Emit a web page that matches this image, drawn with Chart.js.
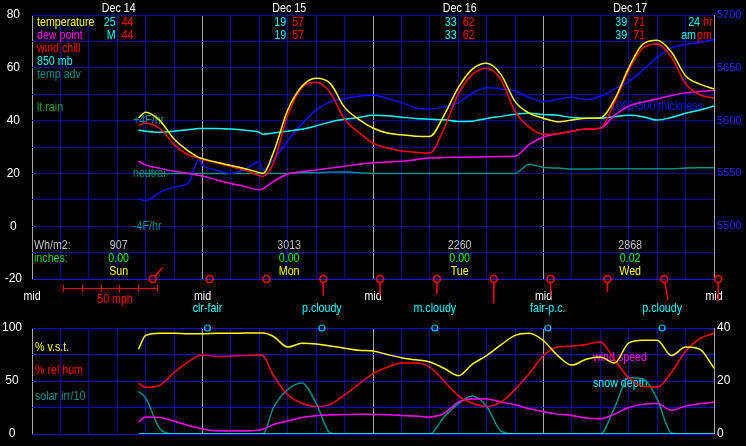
<!DOCTYPE html>
<html>
<head>
<meta charset="utf-8">
<script src="https://cdn.jsdelivr.net/npm/chart.js@4.4.1/dist/chart.umd.min.js"></script>
<style>
  body { margin: 0; background: #000; }
  #wrap { position: relative; width: 746px; height: 446px; background: #000; overflow: hidden; }
  canvas { position: absolute; left: 0; }
  #topChart { top: 0; }
  #botChart { top: 320px; }
</style>
</head>
<body>
<div id="wrap">
  <canvas id="topChart" width="746" height="320"></canvas>
  <canvas id="botChart" width="746" height="126"></canvas>
</div>
<script>
/* ── data: hours since Dec 14 00:00 ── */
const hours = [15,16,18,20,22,23.5,24,26,28,30,32,32.5,34,36,38,40,42,44,46,48,50,52,54,56,58,60,62,64,66,68,70,72,74,76,78,80,82,84,86,88,90,92,94,96];

// top panel (deg F)
const temperature = [41,43.2,40,33,28.5,26,25.6,24.2,23,21.8,20.3,20,28,44,53,56,54,45,40.5,37.2,35.3,34.6,34.1,34,42,52.5,59.5,61.7,57.5,47.2,42.8,40.9,39.6,40.2,40.9,41,48,60,69,70.4,66,57,53.8,52];
const windChill   = [38.3,39,37,31,27,25.8,25.3,24,22.6,21.2,19.2,18.9,24,42,52.5,54.5,50.5,40.5,35.5,31.5,29.6,28.5,28,27.7,37,50,57.5,59.8,55.5,43.5,37.5,34.8,35,36,36.8,37.1,47,59,67.5,69,64,54,49.8,48.5];
const dewPoint    = [24.6,23.2,21.9,20.8,20,19.3,19,17.5,16.2,15,13.8,14.2,17,19.8,20.6,21.3,22,22.7,23.5,24,24.3,24.6,25.2,25.8,26,26.1,26.2,26.3,26.4,26.5,31,33.8,35,36,36.8,37.1,42,45.5,47,48.2,49.5,50.5,51,51.5];
const temp850     = [36.4,36,35.6,36,36.5,37,37,37,36.8,36.3,35.6,34.8,35.3,36,36.7,38,39.5,40.5,41.2,42,41.8,41.3,40.8,40.5,40.3,39.7,39.8,40.8,41.6,42.4,42.8,42.3,42,41.2,40.9,40.9,41.5,42,41.5,40.2,41.2,42.8,44,45.5];
const thickness   = [5526,5524,5532,5537,5541,5563,5558,5553,5550,5554,5561,5553,5563,5581,5597,5610,5618,5621,5623,5624,5621,5617,5612,5611,5613,5617,5626,5631,5630,5628,5622,5618,5620,5622,5620,5623,5630,5637,5648,5660,5669,5672,5674,5677];
const tempAdv     = [0,0,0,0,0,0,0,0,0,0,0,0,0,0,0.05,0.05,0.1,0.1,0.05,0,0,0,0,0,0,0,0,0,0,0,0.7,0.45,0.4,0.33,0.33,0.35,0.35,0.35,0.35,0.35,0.35,0.4,0.42,0.42];

// bottom panel
const vst       = [80,93,95,95,94.5,94.5,94.5,95,95,95.3,95.3,95.3,92,82,85.5,85,83,81,79,78.3,75,72,70,68,62,55,66,74,84,93,95,88,74,65,70.5,72.6,67,86,88.5,88.5,74,82,80,62];
const relHum    = [48,44,46,58,68,74,74.5,73,73.5,74,74.5,74,55,37,29,26,28,37,47,57,63,67,67,63,50,36,29,26,30,42,57,74,82,83,84.5,86.8,70,53,45,44.3,58,78,90,95];
const solarIrr  = [40,34,5,0,0,0,0,0,0,0,0,0,25,42,48,29,1,0,0,0,0,0,0,0,16,28.5,35.8,26,3,0,0,0,0,0,0,0,25,53,52,33,1,0,0,0];
const windSpeed = [4.5,6.4,6.2,4.8,3.2,2.2,1.9,1.2,1.1,1.1,1.5,1.8,3.6,4.9,6.2,6.9,7.2,7.4,7.5,7.4,7.3,7,6.8,6.4,7.8,12,13.2,13.2,12.1,11,9.5,8.5,7.5,7,6,5.7,7.5,10,11.2,11.5,9,10.6,11.4,12];
const snowDepth = [0,0,0,0,0,0,0,0,0,0,0,0,0,0,0,0,0,0,0,0,0,0,0,0,0,0,0,0,0,0,0,0,0,0,0,0,0,0,0,0,0,0,0,0];

// wind barbs (every 8 h)
const barbHours = [17,25,33,41,49,57,65,73,81,89,96.6];
const barbSpeed = [6,0,0,7,7,6,11,7,5,9.5,10];
const barbDir   = [40,0,0,180,180,180,180,180,180,170,180];

// daily text
const noonHours  = [12.2,36.2,60.2,84.2];
const dayDates   = ['Dec 14','Dec 15','Dec 16','Dec 17'];
const dayNames   = ['Sun','Mon','Tue','Wed'];
const lowToday   = ['25','19','33','39'];
const highToday  = ['44','57','62','71'];
const lowAmPm    = ['M','19','33','39'];
const highAmPm   = ['44','57','62','71'];
const solarWh    = ['907','3013','2260','2868'];
const precipIn   = ['0.00','0.00','0.00','0.02'];
const midHours   = [0,24,48,72,96];
const skyHours   = [24.7,40.8,56.7,72.6,88.7];
const skyLabels  = ['clr-fair','p.cloudy','m.cloudy','fair-p.c.','p.cloudy'];

/* ── styling ── */
const YELLOW = '#ffff00', RED = '#ff0000', MAGENTA = '#ff00ff', CYAN = '#00ffff';
const BLUE = '#1010ff', TEAL = '#008c8c', GREEN = '#00ff00';
const NAVY = '#0b0b98', GRAY = '#a8a8a8';
const FONT = '"Liberation Sans", Arial, sans-serif';
const PX_PER_MPH = 94 / 50;

Chart.defaults.font.family = FONT;
Chart.defaults.font.size = 12;
Chart.defaults.color = '#fff';

const xy = vals => hours.map((h, i) => ({ x: h, y: vals[i] }));

function series(label, vals, color, axis) {
  return {
    label, data: xy(vals), borderColor: color, borderWidth: 1.5,
    pointRadius: 0, pointHoverRadius: 0, fill: false,
    cubicInterpolationMode: 'monotone', yAxisID: axis,
  };
}

// narrow-ish bitmap look: scale text horizontally
function txt(ctx, s, x, y, color, align) {
  ctx.save();
  ctx.font = '13px ' + FONT;
  ctx.fillStyle = color;
  ctx.textBaseline = 'middle';
  ctx.textAlign = align || 'left';
  ctx.translate(x, y);
  ctx.scale(0.82, 1);
  ctx.fillText(s, 0, 0);
  ctx.restore();
}

// fixed side width, and no extra label padding above/below the plot
const fitSide = s => { s.width = 32; s.paddingTop = 0; s.paddingBottom = 0; };

const xAxis = {
  type: 'linear', min: 0, max: 96,
  ticks: { display: false, stepSize: 4 },
  grid: { color: c => (c.tick.value % 24 === 0 ? GRAY : NAVY), drawTicks: false },
  border: { display: false },
  afterFit: s => { s.height = 0; },
};

/* ── top panel labels ── */
const topLabels = {
  id: 'topLabels',
  beforeDatasetsDraw(chart) {
    const { ctx, chartArea: a, scales } = chart;
    const px = h => scales.x.getPixelForValue(h);

    dayDates.forEach((d, i) => {
      const cx = px(noonHours[i]);
      txt(ctx, d, cx, 8, '#fff', 'center');
      txt(ctx, lowToday[i], cx - 3, 22, CYAN, 'right');
      txt(ctx, highToday[i], cx + 3, 22, RED, 'left');
      txt(ctx, lowAmPm[i], cx - 3, 35, CYAN, 'right');
      txt(ctx, highAmPm[i], cx + 3, 35, RED, 'left');
      txt(ctx, solarWh[i], cx, a.bottom - 34, '#c0c0c0', 'center');
      txt(ctx, precipIn[i], cx, a.bottom - 21, GREEN, 'center');
      txt(ctx, dayNames[i], cx, a.bottom - 8, YELLOW, 'center');
    });
    txt(ctx, '24', 700, 22, CYAN, 'right');
    txt(ctx, 'hr', 703, 22, RED, 'left');
    txt(ctx, 'am', 696, 35, CYAN, 'right');
    txt(ctx, 'pm', 697, 35, RED, 'left');

    // legend
    txt(ctx, 'temperature', 37, 22, YELLOW);
    txt(ctx, 'dew point', 37, 35, MAGENTA);
    txt(ctx, 'wind chill', 37, 48, RED);
    txt(ctx, '850 mb', 37, 61, CYAN);
    txt(ctx, 'temp adv', 37, 74, TEAL);
    txt(ctx, 'lt.rain', 37, 107, '#20a020');

    const yA = scales.yAdv;
    txt(ctx, '+4F/hr', 133, yA.getPixelForValue(4), TEAL);
    txt(ctx, 'neutral', 133, yA.getPixelForValue(0), TEAL);
    txt(ctx, '-4F/hr', 133, yA.getPixelForValue(-4), TEAL);
    txt(ctx, '1000-500 thickness', px(81.4), scales.y2.getPixelForValue(5613), BLUE);

    txt(ctx, 'Wh/m2:', 34, a.bottom - 34, '#c0c0c0');
    txt(ctx, 'inches:', 34, a.bottom - 21, '#20d020');

    midHours.forEach(h => txt(ctx, 'mid', px(h), a.bottom + 17, '#fff', 'center'));
    skyHours.forEach((h, i) => txt(ctx, skyLabels[i], px(h), a.bottom + 29, CYAN, 'center'));
  },
  afterDatasetsDraw(chart) {
    const { ctx, chartArea: a, scales } = chart;
    ctx.save();
    ctx.strokeStyle = RED;
    ctx.lineWidth = 1.5;
    barbHours.forEach((h, i) => {
      const sp = barbSpeed[i];
      if (!sp) return;
      const ang = barbDir[i] * Math.PI / 180;
      const dx = Math.sin(ang), dy = -Math.cos(ang);
      const cx = scales.x.getPixelForValue(h), cy = scales.y.getPixelForValue(-20);
      const r = 3.5, len = sp * PX_PER_MPH;
      ctx.beginPath();
      ctx.moveTo(cx + dx * r, cy + dy * r);
      ctx.lineTo(cx + dx * (r + len), cy + dy * (r + len));
      ctx.stroke();
    });
    // 50 mph scale bar
    const x0 = 63, yb = a.bottom + 9;
    ctx.lineWidth = 1;
    ctx.beginPath();
    ctx.moveTo(x0, yb + 0.5);
    ctx.lineTo(x0 + 50 * PX_PER_MPH, yb + 0.5);
    for (let m = 0; m <= 50; m += 10) {
      const xx = Math.round(x0 + m * PX_PER_MPH) + 0.5;
      ctx.moveTo(xx, yb - 3);
      ctx.lineTo(xx, yb + 4);
    }
    ctx.stroke();
    ctx.restore();
    txt(ctx, '50 mph', 115, a.bottom + 20, RED, 'center');
  },
};

new Chart(document.getElementById('topChart'), {
  type: 'line',
  data: {
    datasets: [
      {
        label: 'wind barbs', data: barbHours.map(h => ({ x: h, y: -20 })),
        showLine: false, pointRadius: 3.5, pointBorderColor: RED, pointBorderWidth: 1.5,
        pointBackgroundColor: 'rgba(0,0,0,0)', clip: false, yAxisID: 'y',
      },
      series('temperature', temperature, YELLOW, 'y'),
      series('wind chill', windChill, RED, 'y'),
      series('dew point', dewPoint, MAGENTA, 'y'),
      series('850 mb', temp850, CYAN, 'y'),
      series('1000-500 thickness', thickness, BLUE, 'y2'),
      series('temp adv', tempAdv, TEAL, 'yAdv'),
    ],
  },
  options: {
    responsive: false, animation: false, devicePixelRatio: 1, events: [],
    layout: { autoPadding: false, padding: { top: 15, bottom: 41, left: 0, right: 0 } },
    plugins: { legend: { display: false }, tooltip: { enabled: false } },
    scales: {
      x: xAxis,
      y: {
        position: 'left', min: -20, max: 80,
        ticks: { stepSize: 10, autoSkip: false, color: '#fff', padding: 10, crossAlign: 'center',
                 callback: v => (v % 20 === 0 ? String(v) : '') },
        grid: { color: c => (c.tick.value === -20 ? '#1818ff' : NAVY), drawTicks: false },
        border: { display: false },
        afterFit: fitSide,
      },
      y2: {
        position: 'right', min: 5450, max: 5700,
        ticks: { stepSize: 50, color: '#2a2aff', padding: 3, font: { size: 11 },
                 callback: v => (v === 5450 ? '' : String(v)) },
        grid: { display: false, drawTicks: false },
        border: { display: false },
        afterFit: fitSide,
      },
      yAdv: { display: false, min: -8, max: 12 },
    },
  },
  plugins: [topLabels],
});

/* ── bottom panel ── */
const botLabels = {
  id: 'botLabels',
  beforeDatasetsDraw(chart) {
    const { ctx, chartArea: a } = chart;
    txt(ctx, '% v.s.t.', 35, a.top + 19, YELLOW);
    txt(ctx, '% rel hum', 35, a.top + 42, RED);
    txt(ctx, 'solar irr/10', 35, a.top + 68, TEAL);
    txt(ctx, 'wind speed', 593, a.top + 29, MAGENTA);
    txt(ctx, 'snow depth', 593, a.top + 55, CYAN);
  },
};

new Chart(document.getElementById('botChart'), {
  type: 'line',
  data: {
    datasets: [
      {
        label: 'sky', data: skyHours.map(h => ({ x: h, y: 100 })),
        showLine: false, pointRadius: 3, pointBorderColor: '#00c8ff', pointBorderWidth: 1.2,
        pointBackgroundColor: 'rgba(0,0,0,0)', clip: false, yAxisID: 'y',
      },
      series('% v.s.t.', vst, YELLOW, 'y'),
      series('snow depth', snowDepth, CYAN, 'y2'),
      series('% rel hum', relHum, RED, 'y'),
      series('wind speed', windSpeed, MAGENTA, 'y2'),
      series('solar irr/10', solarIrr, TEAL, 'y'),
    ],
  },
  options: {
    responsive: false, animation: false, devicePixelRatio: 1, events: [],
    layout: { autoPadding: false, padding: { top: 8, bottom: 12, left: 0, right: 0 } },
    plugins: { legend: { display: false }, tooltip: { enabled: false } },
    scales: {
      x: xAxis,
      y: {
        position: 'left', min: 0, max: 100,
        ticks: { stepSize: 25, autoSkip: false, color: '#fff', padding: 10, crossAlign: 'center',
                 callback: v => (v % 50 === 0 ? String(v) : '') },
        grid: { color: '#0c0ce0', drawTicks: false },
        border: { display: false },
        afterFit: fitSide,
      },
      y2: {
        position: 'right', min: 0, max: 40,
        ticks: { stepSize: 20, color: '#fff', padding: 3, callback: v => String(v) },
        grid: { display: false, drawTicks: false },
        border: { display: false },
        afterFit: fitSide,
      },
    },
  },
  plugins: [botLabels],
});
</script>
</body>
</html>
